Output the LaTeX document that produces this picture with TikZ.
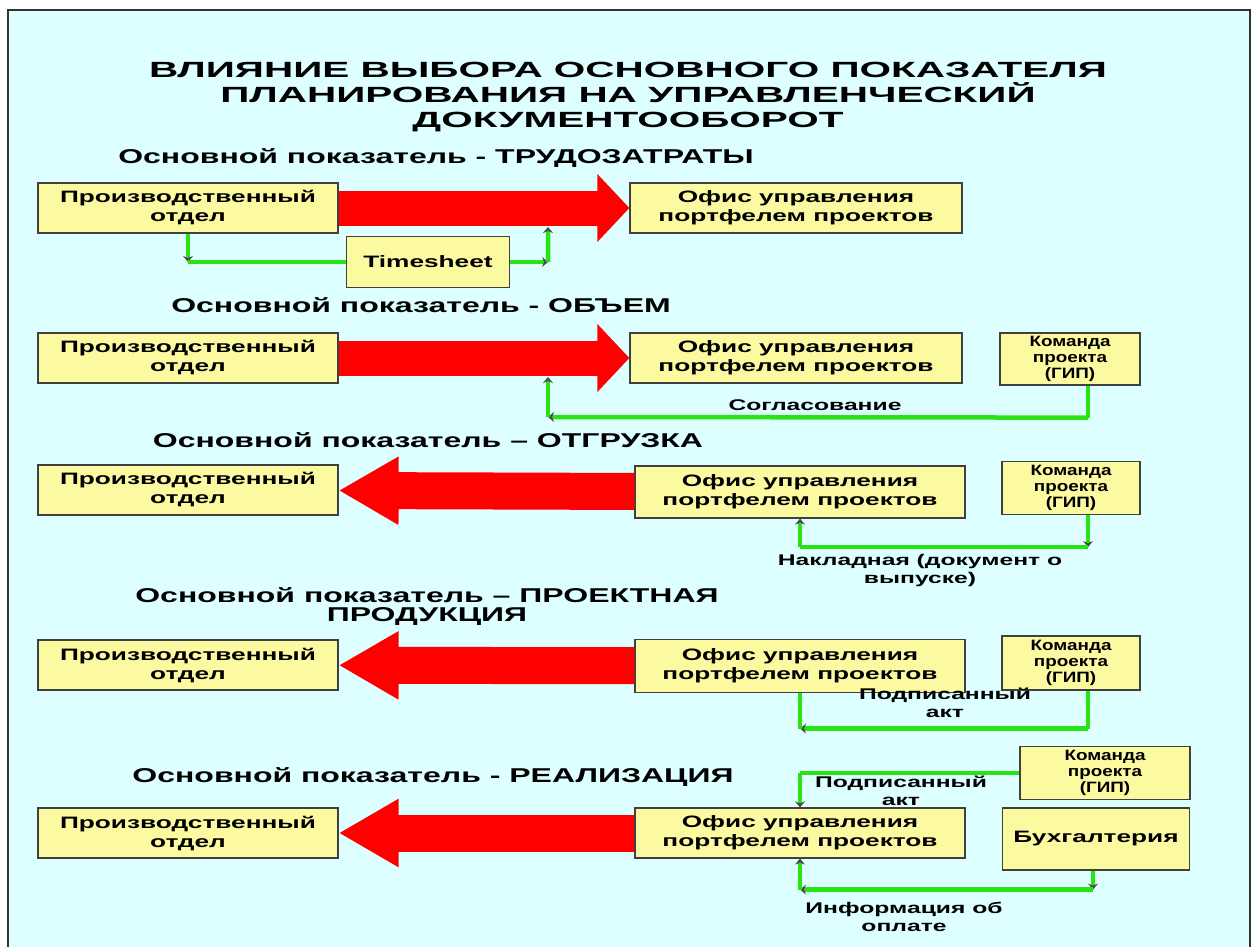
\documentclass[tikz,border=0pt]{standalone}
\usepackage{fontspec}
\setmainfont{Liberation Sans}[FakeStretch=1.59]
\newfontfamily\headfont{Liberation Sans}[FakeStretch=1.6]
\newfontfamily\smallfont{Liberation Sans}[FakeStretch=1.26]
\newfontfamily\titlefont{Liberation Sans}[FakeStretch=1.84]
\usetikzlibrary{arrows.meta,positioning,calc}
\definecolor{bgcyan}{RGB}{221,255,255}
\definecolor{boxyellow}{RGB}{252,250,160}
\definecolor{linegreen}{RGB}{40,228,20}

\begin{document}
\begin{tikzpicture}[
  x=1pt,y=-1pt,
  every node/.style={font=\bfseries\fontsize{16.5}{19}\selectfont,align=center,inner sep=0pt},
  unitbox/.style={draw=black!75,fill=boxyellow,line width=1.2pt,minimum height=50pt},
  teambox/.style={unitbox,font=\smallfont\bfseries\fontsize{15}{16}\selectfont},
  heading/.style={font=\headfont\bfseries\fontsize{20}{19}\selectfont},
  note/.style={font=\bfseries\fontsize{15.5}{18}\selectfont},
  bigarrow/.style={line width=35pt,draw=red,-{Triangle[length=32pt,width=66pt]}},
  backarrow/.style={line width=37pt,draw=red,-{Triangle[length=60pt,width=64pt]}},
  greenline/.style={draw=linegreen,line width=4.5pt,line join=miter},
  greentip/.style={greenline,-{Stealth[length=6pt,width=10pt,color=black!70]}}
]
\clip (0,0) rectangle (1256,947);
\draw[fill=bgcyan,draw=black!80,line width=1.5pt] (8,10) rectangle (1250,970);

% title
\node[font=\titlefont\bfseries\fontsize{22}{25}\selectfont] (title) at (628,97)
  {ВЛИЯНИЕ ВЫБОРА ОСНОВНОГО ПОКАЗАТЕЛЯ\\ПЛАНИРОВАНИЯ НА УПРАВЛЕНЧЕСКИЙ\\ДОКУМЕНТООБОРОТ};

% 1: трудозатраты
\node[heading] (head1) at (436,158) {Основной показатель - ТРУДОЗАТРАТЫ};
\node[unitbox,minimum width=300pt] (po1) at (188,208) {Производственный\\отдел};
\node[unitbox,minimum width=332pt] (of1) at (796,208) {Офис управления\\портфелем проектов};
\node[unitbox,minimum width=163pt,minimum height=51pt] (ts) at (428,262) {Timesheet};
\draw[bigarrow] (po1) -- (of1);
\coordinate (t1a) at (po1.south |- ts.west);
\coordinate (t1b) at ($(ts.east)+(38,0)$);
\coordinate (a1) at (548,227);
\draw[greentip] (po1.south) -- (t1a);
\draw[greenline] (t1a) -- (ts.west);
\draw[greentip] (ts.east) -- (t1b);
\draw[greentip] (t1b) -- (a1);

% 2: объем
\node[heading] (head2) at (421,305) {Основной показатель - ОБЪЕМ};
\node[unitbox,minimum width=300pt] (po2) at (188,358) {Производственный\\отдел};
\node[unitbox,minimum width=332pt] (of2) at (796,358) {Офис управления\\портфелем проектов};
\node[teambox,minimum width=140pt,minimum height=52pt] (kom2) at (1070,359) {Команда\\проекта\\(ГИП)};
\draw[bigarrow] (po2) -- (of2);
\coordinate (k2) at ([xshift=18pt]kom2.south);
\coordinate (t2a) at ($(k2)+(0,32)$);
\coordinate (t2b) at (548,417);
\coordinate (a2) at (548,377);
\draw[greenline] (k2) -- (t2a);
\draw[greentip] (t2a) -- (t2b);
\draw[greentip] (t2b) -- (a2);
\node[note] (lbl2) at (815,405) {Согласование};

% 3: отгрузка
\node[heading] (head3) at (428,440) {Основной показатель – ОТГРУЗКА};
\node[unitbox,minimum width=300pt] (po3) at (188,490) {Производственный\\отдел};
\node[unitbox,minimum width=330pt,minimum height=52pt] (of3) at (800,492) {Офис управления\\портфелем проектов};
\node[teambox,minimum width=138pt,minimum height=53pt] (kom3) at (1071,488) {Команда\\проекта\\(ГИП)};
\draw[backarrow] (of3) -- (po3);
\coordinate (k3) at ([xshift=17pt]kom3.south);
\coordinate (t3a) at ($(k3)+(0,32)$);
\coordinate (t3b) at (of3.south |- t3a);
\draw[greentip] (k3) -- (t3a);
\draw[greenline] (t3a) -- (t3b);
\draw[greentip] (t3b) -- (of3.south);
\node[note] (lbl3) at (920,570) {Накладная (документ о\\выпуске)};

% 4: проектная продукция
\node[heading] (head4) at (427,607) {Основной показатель – ПРОЕКТНАЯ\\ПРОДУКЦИЯ};
\node[unitbox,minimum width=300pt] (po4) at (188,665) {Производственный\\отдел};
\node[unitbox,minimum width=330pt,minimum height=53pt] (of4) at (800,666) {Офис управления\\портфелем проектов};
\node[teambox,minimum width=138pt,minimum height=54pt] (kom4) at (1071,663) {Команда\\проекта\\(ГИП)};
\draw[backarrow] (of4) -- (po4);
\coordinate (k4) at ([xshift=17pt]kom4.south);
\coordinate (t4a) at ($(k4)+(0,38)$);
\coordinate (t4b) at (of4.south |- t4a);
\draw[greenline] (k4) -- (t4a);
\draw[greentip] (t4a) -- (t4b);
\draw[greenline] (t4b) -- (of4.south);
\node[note] (lbl4) at (945,703) {Подписанный\\акт};

% 5: реализация
\node[heading] (head5) at (433,777) {Основной показатель - РЕАЛИЗАЦИЯ};
\node[unitbox,minimum width=300pt] (po5) at (188,833) {Производственный\\отдел};
\node[unitbox,minimum width=330pt] (of5) at (800,833) {Офис управления\\портфелем проектов};
\node[teambox,minimum width=170pt,minimum height=53pt] (kom5) at (1105,773) {Команда\\проекта\\(ГИП)};
\node[unitbox,minimum width=187pt,minimum height=62pt] (buh) at (1096,839) {Бухгалтерия};
\draw[backarrow] (of5) -- (po5);
\coordinate (t5a) at (of5.north |- kom5.west);
\draw[greenline] (kom5.west) -- (t5a);
\draw[greentip] (t5a) -- (of5.north);
\coordinate (b5) at ([xshift=-3pt]buh.south);
\coordinate (t5b) at ($(b5)+(0,19)$);
\coordinate (t5c) at (of5.south |- t5b);
\draw[greentip] (b5) -- (t5b);
\draw[greentip] (t5b) -- (t5c);
\draw[greentip] (t5c) -- (of5.south);
\node[note] (lbl5a) at (901,791) {Подписанный\\акт};
\node[note] (lbl5b) at (904,917) {Информация об\\оплате};
\end{tikzpicture}
\end{document}
